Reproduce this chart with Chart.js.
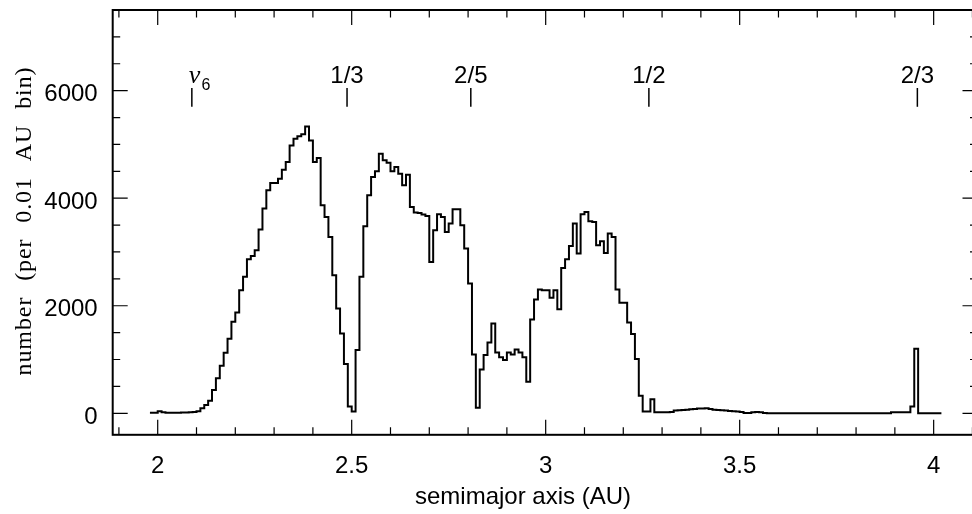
<!DOCTYPE html>
<html>
<head>
<meta charset="utf-8">
<title>semimajor axis histogram</title>
<script src="https://cdn.jsdelivr.net/npm/chart.js@4.4.0/dist/chart.umd.min.js"></script>
<style>
html, body { margin: 0; padding: 0; background: #fff; overflow: hidden; }
#wrap { width: 972px; height: 514px; overflow: hidden; }
#histChart { display: block; }
</style>
</head>
<body>
<div id="wrap"><canvas id="histChart" width="980" height="514"></canvas></div>
<script>

//Histograma: primer borde de bin y ancho (AU)
var binStart = 1.98;
var binWidth = 0.01;

//Cuentas por bin de 0.01 AU (cada fila empieza en el AU del comentario)
var binCounts = [
	/* 1.98 */ 10, 10, 40, 20, 10, 10, 10, 10, 15, 15,
	/* 2.08 */ 20, 25, 40, 93, 155, 235, 433, 650, 885, 1126,
	/* 2.18 */ 1386, 1702, 1875, 2290, 2537, 2865, 2927, 3033, 3420, 3807,
	/* 2.28 */ 4147, 4283, 4283, 4364, 4531, 4673, 4982, 5107, 5150, 5187,
	/* 2.38 */ 5335, 5075, 4673, 4747, 3868, 3651, 3280, 2568, 1950, 1486,
	/* 2.48 */ 916, 124, 31, 1176, 2537, 3478, 4054, 4394, 4499, 4828,
	/* 2.58 */ 4704, 4661, 4499, 4580, 4456, 4240, 4438, 3837, 3732, 3726,
	/* 2.68 */ 3695, 3670, 2815, 3404, 3701, 3651, 3373, 3528, 3794, 3794,
	/* 2.78 */ 3497, 3064, 2414, 1095, 105, 816, 1083, 1318, 1671, 1132,
	/* 2.88 */ 1040, 990, 1132, 1095, 1188, 1132, 1040, 587, 1745, 2117,
	/* 2.98 */ 2303, 2290, 2290, 2147, 2290, 1937, 2700, 2864, 3111, 3528,
	/* 3.08 */ 2971, 3701, 3744, 3571, 3558, 3125, 3200, 2983, 3342, 3280,
	/* 3.18 */ 2303, 2054, 2054, 1690, 1473, 1008, 327, 31, 31, 260,
	/* 3.28 */ 19, 19, 19, 19, 25, 50, 56, 62, 68, 74,
	/* 3.38 */ 80, 87, 87, 93, 80, 68, 62, 56, 50, 43,
	/* 3.48 */ 37, 31, 25, 6, 6, 19, 25, 19, 6, 0,
	/* 3.58 */ 0, 0, 0, 0, 0, 0, 0, 0, 0, 0,
	/* 3.68 */ 0, 0, 0, 0, 0, 0, 0, 0, 0, 0,
	/* 3.78 */ 0, 0, 0, 0, 0, 0, 0, 0, 0, 0,
	/* 3.88 */ 0, 19, 19, 19, 19, 19, 124, 1200, 0, 0,
	/* 3.98 */ 0, 0, 0, 0
];

//Etiquetas de los ejes
var xTickValues = [2, 2.5, 3, 3.5, 4];
var yTickValues = [0, 2000, 4000, 6000];

//Resonancias marcadas arriba (posicion en AU)
var resLabels = ['ν6', '1/3', '2/5', '1/2', '2/3'];
var resAU     = [2.088, 2.488, 2.807, 3.266, 3.958];
//Extremos de la marquita de cada resonancia (en cuentas)
var resTickLow  = 5700;
var resTickHigh = 6050;

var xTitle = 'semimajor axis (AU)';
var yTitle = 'number (per 0.01 AU bin)';

//Puntos del histograma escalonado: un punto por borde izquierdo y uno final
var histPoints = [];
for (var i = 0; i < binCounts.length; i++) {
	histPoints.push({ x: binStart + i * binWidth, y: binCounts[i] });
}
histPoints.push({ x: binStart + binCounts.length * binWidth, y: binCounts[binCounts.length - 1] });

var sansFont = '"Liberation Sans", Arial, Helvetica, sans-serif';

//Marco, marcas hacia dentro, resonancias y titulos de ejes
var framePlugin = {
	id: 'frame',
	afterDraw: function(chart) {
		var ctx = chart.ctx;
		var a = chart.chartArea;
		var xs = chart.scales.x;
		var ys = chart.scales.y;

		ctx.save();
		ctx.strokeStyle = '#000';
		ctx.fillStyle = '#000';

		//marcas del eje x (arriba y abajo), menores cada 0.1
		ctx.lineWidth = 1.2;
		ctx.beginPath();
		for (var i = 19; i <= 41; i++) {
			var px = xs.getPixelForValue(i / 10);
			var len = (i % 5 === 0) ? 15 : 7.5;
			ctx.moveTo(px, a.bottom);
			ctx.lineTo(px, a.bottom - len);
			ctx.moveTo(px, a.top);
			ctx.lineTo(px, a.top + len);
		}
		//marcas del eje y (izquierda y derecha), menores cada 500
		for (var j = 0; j <= 15; j++) {
			var py = ys.getPixelForValue(j * 500);
			var ylen = (j % 4 === 0) ? 15 : 7.5;
			ctx.moveTo(a.left, py);
			ctx.lineTo(a.left + ylen, py);
			ctx.moveTo(a.right, py);
			ctx.lineTo(a.right - ylen, py);
		}
		ctx.stroke();

		//marco
		ctx.lineWidth = 2;
		ctx.strokeRect(a.left, a.top, a.right - a.left, a.bottom - a.top);

		//resonancias
		ctx.lineWidth = 1.5;
		for (var k = 0; k < resAU.length; k++) {
			var rx = xs.getPixelForValue(resAU[k]);
			var top = ys.getPixelForValue(resTickHigh);
			var bot = ys.getPixelForValue(resTickLow);
			ctx.beginPath();
			ctx.moveTo(rx, top);
			ctx.lineTo(rx, bot);
			ctx.stroke();

			var lab = resLabels[k];
			if (lab.charAt(0) === 'ν') {
				ctx.textAlign = 'left';
				ctx.textBaseline = 'alphabetic';
				ctx.font = 'italic 26px "Liberation Serif", serif';
				ctx.fillText('ν', rx - 3, top - 5);
				var w = ctx.measureText('ν').width;
				ctx.font = '16px ' + sansFont;
				ctx.fillText(lab.slice(1), rx - 3 + w + 1, top + 2);
			} else {
				ctx.textAlign = 'center';
				ctx.textBaseline = 'alphabetic';
				ctx.font = '24px ' + sansFont;
				ctx.fillText(lab, rx, top - 4.5);
			}
		}

		//titulo eje x
		ctx.font = '24px ' + sansFont;
		ctx.textAlign = 'center';
		ctx.textBaseline = 'middle';
		ctx.fillText(xTitle, 523, 497);

		//titulo eje y (serif, girado)
		ctx.translate(24.5, 221);
		ctx.rotate(-Math.PI / 2);
		ctx.font = '24px "Liberation Serif", "Times New Roman", serif';
		ctx.letterSpacing = '0.9px';
		ctx.wordSpacing = '9px';
		ctx.fillText(yTitle, 0, 0);

		ctx.restore();
	}
};

var ctx = document.getElementById('histChart').getContext('2d');

var chart = new Chart(ctx, {
	type: 'line',
	data: {
		datasets: [
			{
				label: 'asteroids',
				data: histPoints,
				stepped: 'before',
				borderColor: '#000',
				borderWidth: 2,
				borderJoinStyle: 'miter',
				pointRadius: 0,
				fill: false
			}
		]
	},
	options: {
		responsive: false,
		animation: false,
		devicePixelRatio: 1,
		layout: {
			padding: { left: 0, right: 2.5, top: 10, bottom: 0 }
		},
		plugins: {
			legend: { display: false },
			tooltip: { enabled: false }
		},
		scales: {
			x: {
				type: 'linear',
				min: 1.884,
				max: 4.113,
				grid: { display: false, drawTicks: false },
				border: { display: false },
				ticks: {
					color: '#000',
					font: { family: sansFont, size: 24 },
					padding: 17,
					autoSkip: false,
					maxRotation: 0,
					minRotation: 0,
					callback: function(v) { return String(v); }
				},
				afterBuildTicks: function(scale) {
					scale.ticks = xTickValues.map(function(v) { return { value: v }; });
				},
				afterFit: function(scale) {
					scale.height = 79.2;
					scale.paddingLeft = 0;
					scale.paddingRight = 0;
					scale.paddingTop = 0;
					scale.paddingBottom = 0;
				}
			},
			y: {
				type: 'linear',
				min: -400,
				max: 7500,
				grid: { display: false, drawTicks: false },
				border: { display: false },
				ticks: {
					color: '#000',
					font: { family: sansFont, size: 24 },
					padding: 15,
					labelOffset: 4,
					callback: function(v) { return String(v); }
				},
				afterBuildTicks: function(scale) {
					scale.ticks = yTickValues.map(function(v) { return { value: v }; });
				},
				afterFit: function(scale) {
					scale.width = 112.7;
					scale.paddingLeft = 0;
					scale.paddingRight = 0;
					scale.paddingTop = 0;
					scale.paddingBottom = 0;
				}
			}
		}
	},
	plugins: [framePlugin]
});
</script>
</body>
</html>
